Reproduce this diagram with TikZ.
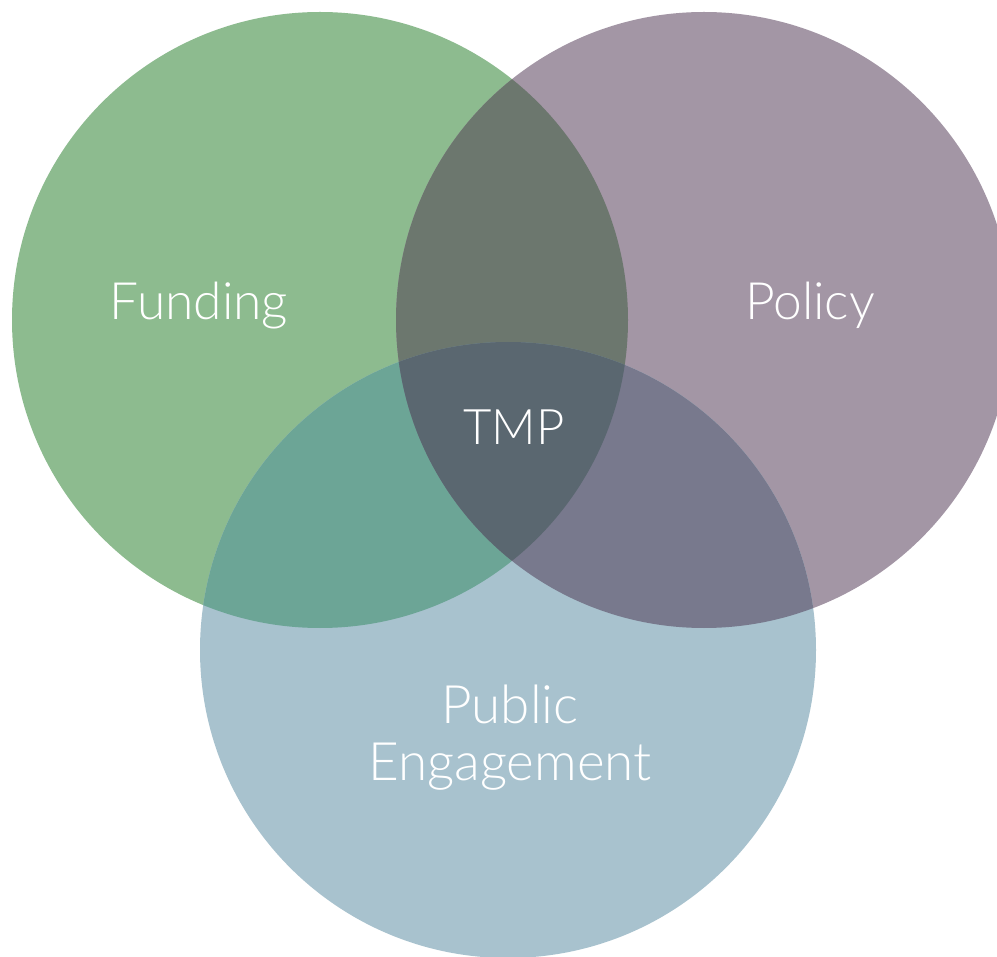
\documentclass[tikz,border=0pt]{standalone}
\usepackage{fontspec}
\setmainfont{Lato Light}
\definecolor{cg}{HTML}{8DBB8F}
\definecolor{cp}{HTML}{A396A5}
\definecolor{cb}{HTML}{A8C2CE}
\definecolor{cgp}{HTML}{6C776E}
\definecolor{cgb}{HTML}{6CA596}
\definecolor{cpb}{HTML}{78798D}
\definecolor{call}{HTML}{5A6770}
\tikzset{lbl/.style={text=white,font=\fontsize{51.5}{57}\selectfont,align=center,inner sep=0pt,anchor=base}}
\begin{document}
\begin{tikzpicture}[x=1pt,y=-1pt]
\useasboundingbox (0,0) rectangle (997,957);
\fill[white] (0,0) rectangle (997,957);
\def\G{(320,320) circle[radius=308]}
\def\P{(704,320) circle[radius=308]}
\def\B{(508,650) circle[radius=308]}
\begin{scope}
\clip (0,0) rectangle (997,957);
\fill[cg] \G;
\fill[cp] \P;
\fill[cb] \B;
\begin{scope}\clip \G; \fill[cgp] \P; \end{scope}
\begin{scope}\clip \G; \fill[cgb] \B; \end{scope}
\begin{scope}\clip \P; \fill[cpb] \B; \end{scope}
\begin{scope}\clip \G; \clip \P; \fill[call] \B; \end{scope}
\end{scope}
\node[lbl] (funding) at (199,320) {Funding};
\node[lbl] (policy) at (810,320) {Policy};
\node[lbl,font=\fontsize{49}{57}\selectfont] (tmp) at (514,445) {TMP};
\node[lbl,font=\fontsize{53}{57}\selectfont] (pe) at (510,780) {Public\\Engagement};
\end{tikzpicture}
\end{document}
